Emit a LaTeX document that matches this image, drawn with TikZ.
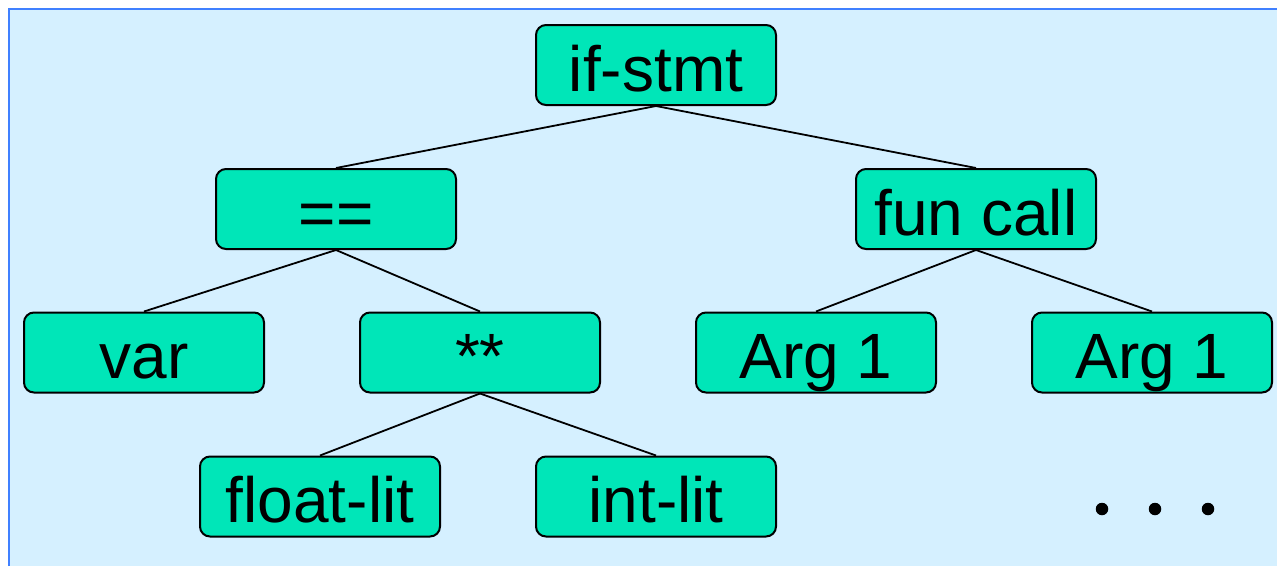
\documentclass[tikz,border=0pt]{standalone}
\usepackage{fontspec}
\setmainfont{Liberation Sans}
\definecolor{panelbg}{RGB}{213,240,255}
\definecolor{panelrule}{RGB}{64,128,255}
\definecolor{nodefill}{RGB}{0,230,184}
\tikzset{
  treenode/.style={draw=black, line width=2pt, fill=nodefill, rounded corners=10pt,
    minimum width=240pt, minimum height=80pt, inner sep=0pt,
    text height=60pt, text depth=8pt,
    font=\fontsize{64}{76}\selectfont},
  branch/.style={line width=1.8pt, draw=black},
  dotmark/.style={fill=black, circle, inner sep=0pt, minimum size=12.5pt}
}
\begin{document}
\begin{tikzpicture}[x=1pt, y=-1pt]
  \useasboundingbox (0,0) rectangle (1277,566);
  % panel
  \fill[white] (0,0) rectangle (1277,566);
  \fill[panelbg] (9,9) rectangle (1277,566);
  \draw[panelrule, line width=2.5pt] (9,566) -- (9,9) -- (1277,9);

  % tree nodes
  \node[treenode] (ifs)   at (656,65)    {if-stmt};
  \node[treenode] (eq)    at (336,209)   {==};
  \node[treenode] (call)  at (976,209)   {fun call};
  \node[treenode] (var)   at (144,352.5) {var};
  \node[treenode] (pow)   at (480,352.5) {**};
  \node[treenode] (argA)  at (816,352.5) {Arg 1};
  \node[treenode] (argB)  at (1152,352.5){Arg 1};
  \node[treenode] (flt)   at (320,496.5) {float-lit};
  \node[treenode] (int)   at (656,496.5) {int-lit};

  % branches
  \draw[branch] (ifs.south)  -- (eq.north);
  \draw[branch] (ifs.south)  -- (call.north);
  \draw[branch] (eq.south)   -- (var.north);
  \draw[branch] (eq.south)   -- (pow.north);
  \draw[branch] (call.south) -- (argA.north);
  \draw[branch] (call.south) -- (argB.north);
  \draw[branch] (pow.south)  -- (flt.north);
  \draw[branch] (pow.south)  -- (int.north);

  % ellipsis
  \node[dotmark] (d1) at (1102,509) {};
  \node[dotmark] (d2) at (1155,509) {};
  \node[dotmark] (d3) at (1208,509) {};
\end{tikzpicture}
\end{document}
